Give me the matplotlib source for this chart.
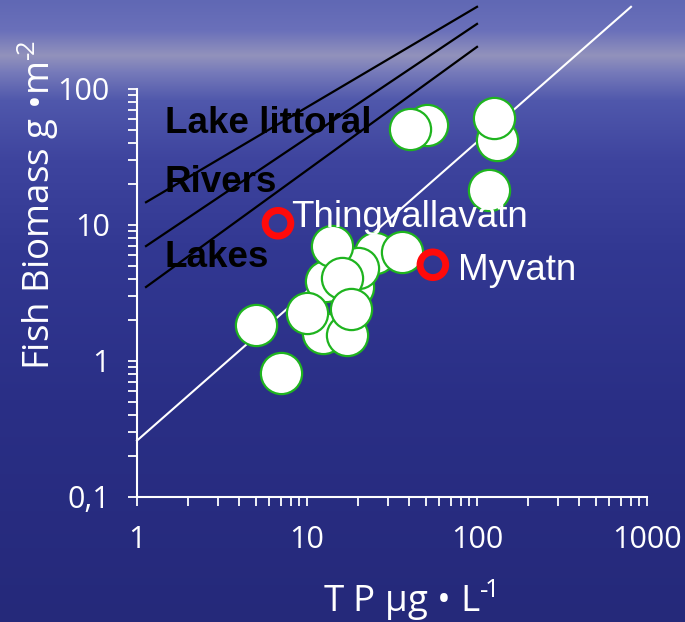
#!/usr/bin/env python3
"""
Fish biomass vs total phosphorus, log-log scatter with reference lines.
Writes out.png.
"""

import numpy as np
import matplotlib
matplotlib.use("Agg")
import matplotlib.pyplot as plt
from matplotlib.ticker import FixedLocator, FixedFormatter, LogLocator, NullFormatter

# ─── Data ────────────────────────────────────────────────────────
# lake survey points (TP µg/L, fish biomass g/m2), back-to-front order
tp_values = [25.1, 36.2, 18.7, 19.9, 12.9, 14.0, 16.1, 12.4, 10.0, 17.2, 18.1,
             5.0, 7.0, 50.8, 40.3, 131, 126, 118]
biomass_values = [6.2, 6.3, 3.5, 4.8, 3.9, 7.0, 4.1, 1.6, 2.24, 1.55, 2.4,
                  1.85, 0.81, 54, 51, 42, 61, 18]

# Icelandic lakes, highlighted
highlight_names = ["Thingvallavatn", "Myvatn"]
highlight_tp = [6.75, 55]
highlight_biomass = [10.3, 5.1]

# regression lines for other systems
line_labels = ["Lake littoral", "Rivers", "Lakes"]
line_tp = [1.13, 100]
line_start = [14.7, 7.0, 3.5]
line_end = [402, 301, 204]

# fitted line for this dataset
fit_tp = [1, 805]
fit_biomass = [0.26, 402]

x_ticks = [1, 10, 100, 1000]
x_tick_labels = ["1", "10", "100", "1000"]
y_ticks = [0.1, 1, 10, 100]
y_tick_labels = ["0,1", "1", "10", "100"]

# ─── Figure / background ─────────────────────────────────────────
W, H = 685, 622
fig = plt.figure(figsize=(W / 100, H / 100), dpi=100)

bg_ax = fig.add_axes([0, 0, 1, 1], zorder=-10)
stops_y = [0, 30, 55, 72, 100, 160, 250, 400, 622]
stops_rgb = np.array([
    (96, 104, 180), (106, 112, 186), (146, 146, 188), (118, 122, 186),
    (80, 88, 172), (62, 68, 158), (50, 56, 146), (42, 47, 134), (37, 41, 122),
]) / 255.0
rows = np.arange(H)
grad = np.stack([np.interp(rows, stops_y, stops_rgb[:, c]) for c in range(3)], axis=1)
bg_ax.imshow(grad[:, None, :], aspect="auto", extent=[0, 1, 0, 1], interpolation="bilinear")
bg_ax.set_axis_off()

# ─── Plot ────────────────────────────────────────────────────────
ax = fig.add_axes([137 / W, 1 - 497 / H, 510 / W, 408 / H])
ax.patch.set_alpha(0)
ax.set_xscale("log")
ax.set_yscale("log")
ax.set_xlim(1, 1000)
ax.set_ylim(0.1, 100)

for start, end in zip(line_start, line_end):
    ax.plot(line_tp, [start, end], color="black", lw=1.6, clip_on=False, zorder=2)
ax.plot(fit_tp, fit_biomass, color="white", lw=1.5, clip_on=False, zorder=2)

ax.scatter(tp_values, biomass_values, s=880, facecolor="white",
           edgecolor="#1fb41f", linewidth=1.6, zorder=3)
ax.scatter(highlight_tp, highlight_biomass, s=340, facecolor="none",
           edgecolor="#ff0a0a", linewidth=5, zorder=4)

# labels
label_font = ["Liberation Sans", "DejaVu Sans"]
for name, x, y in zip(line_labels, [1.46, 1.46, 1.46], [47.4, 17.4, 4.88]):
    ax.text(x, y, name, fontsize=26.5, fontweight="bold", color="black",
            family=label_font, va="baseline", ha="left", zorder=5)
for name, x, y in zip(highlight_names, [8.05, 77.3], [9.6, 3.91]):
    ax.text(x, y, name, fontsize=26.5, color="white",
            family=label_font, va="baseline", ha="left", zorder=5)

# axes styling
for side in ("top", "right"):
    ax.spines[side].set_visible(False)
for side in ("left", "bottom"):
    ax.spines[side].set_color("white")
    ax.spines[side].set_linewidth(1.5)

ax.xaxis.set_major_locator(FixedLocator(x_ticks))
ax.xaxis.set_major_formatter(FixedFormatter(x_tick_labels))
ax.yaxis.set_major_locator(FixedLocator(y_ticks))
ax.yaxis.set_major_formatter(FixedFormatter(y_tick_labels))
ax.xaxis.set_minor_locator(LogLocator(base=10, subs=np.arange(2, 10)))
ax.yaxis.set_minor_locator(LogLocator(base=10, subs=np.arange(2, 10)))
ax.xaxis.set_minor_formatter(NullFormatter())
ax.yaxis.set_minor_formatter(NullFormatter())

tick_font = ["Open Sans", "DejaVu Sans"]
ax.tick_params(which="both", direction="out", color="white", width=1.3, length=6.5)
ax.tick_params(axis="x", which="major", pad=14, labelsize=22, labelcolor="white")
ax.tick_params(axis="y", which="major", pad=13, labelsize=22, labelcolor="white")
for lbl in ax.get_xticklabels() + ax.get_yticklabels():
    lbl.set_family(tick_font)

# axis titles, hyphen superscripts as in the slide
plt.rcParams["mathtext.fontset"] = "custom"
plt.rcParams["mathtext.rm"] = "Open Sans"
plt.rcParams["mathtext.it"] = "Open Sans"
fig.text(409 / W, 1 - 600 / H, "T P µg • L$^{\u2010\\!1}$", fontsize=26.5, color="white",
         family=tick_font, ha="center", va="center")
fig.text(38 / W, 1 - 205 / H, "Fish Biomass g •m$^{\u2010\\!2}$", fontsize=26.5, color="white",
         family=tick_font, ha="center", va="center", rotation=90)

fig.savefig("out.png", dpi=100)
plt.close(fig)
